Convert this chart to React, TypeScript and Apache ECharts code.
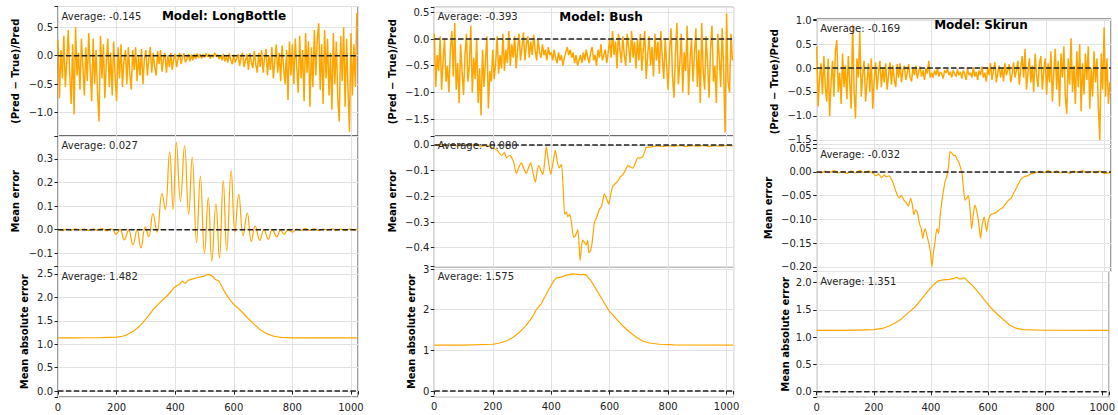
import React, { useEffect, useRef } from "react";
import * as echarts from "echarts";

// ---------------- data ----------------
const X_MAX = 1024;
const X_STEP = 5; // spacing of the sampled relative-error values
const xTickStep = 200;

const modelNames = ["LongBottle", "Bush", "Skirun"];
const avgRelative = [-0.145, -0.393, -0.169];
const avgMeanErr = [0.027, -0.08, -0.032];
const avgAbsErr = [1.482, 1.575, 1.351];
const rowNames = ["(Pred \u2212 True)/Pred", "Mean error", "Mean absolute error"];

// (Pred - True)/Pred, one value every 5 samples
const longBottleRel = [
  0.28, -0.75, 0.1, -0.4, 0.35, -0.55, -0.1, 0.45, -0.3, -0.85, 0.2, -1.03, 0.5, -0.35, 0.05, -0.6, 0.3, -0.2, -0.7, 0.15,
  -0.45, 0.4, -0.25, -0.8, 0.3, -0.5, 0.1, -0.65, -1.16, 0.35, -0.4, 0.2, -0.75, -0.1, 0.3, -0.55, 0.05, -0.7, 0.25, -0.35,
  -0.8, 0.15, -0.4, 0.2, -0.55, -0.1, 0.1, -0.5, 0.15, -0.3, -0.6, 0.1, -0.25, 0.15, -0.45, 0.0, -0.35, 0.12, -0.5, -0.05,
  0.1, -0.35, -0.05, 0.15, -0.3, 0.05, -0.2, -0.35, 0.08, -0.15, 0.1, -0.28, -0.05, 0.05, -0.3, 0.0, -0.2, 0.05, -0.25, -0.05,
  0.03, -0.2, -0.05, 0.05, -0.15, -0.02, 0.04, -0.12, -0.05, 0.03, -0.1, 0.02, -0.08, 0.03, -0.06, 0.04, -0.04, 0.03, -0.05, 0.02,
  -0.03, 0.04, -0.02, 0.03, -0.05, 0.02, -0.03, 0.05, -0.02, 0.02, -0.06, 0.01, -0.08, 0.03, -0.1, 0.0, -0.12, 0.04, -0.08, -0.15,
  0.02, -0.12, -0.05, 0.03, -0.18, -0.02, 0.05, -0.2, -0.08, 0.02, -0.25, 0.05, -0.12, -0.22, 0.08, -0.15, -0.3, 0.05, -0.2, 0.1,
  -0.3, -0.05, 0.12, -0.35, 0.0, -0.25, 0.15, -0.4, -0.1, 0.2, -0.3, 0.05, -0.45, 0.18, -0.2, -0.5, 0.1, -0.78, 0.25, -0.35,
  0.2, -0.5, 0.3, -0.2, -0.65, 0.35, -0.4, 0.1, -0.8, 0.4, -0.3, 0.25, -0.9, 0.15, -0.55, 0.45, -0.35, 0.3, 0.57, -0.6,
  0.2, -0.85, 0.45, -0.4, 0.3, -0.7, 0.05, -0.95, 0.4, -0.5, 0.25, -0.75, -1.16, 0.35, -0.45, 0.5, -0.9, 0.3, -0.6, -1.34,
  0.4, -0.7, 0.2, -0.55, 0.75,
];
const bushRel = [
  0.1, -0.9, -0.3, -0.6, 0.05, -0.95, -0.4, 0.0, -0.8, -0.5, -1.0, -0.2, 0.15, -0.7, 0.3, -0.95, -0.45, -1.2, -0.1, -0.6,
  -1.05, -0.3, 0.1, -0.8, -0.5, 0.25, -1.0, -0.35, -0.75, 0.0, -1.2, -0.55, -1.43, -0.2, -0.9, -0.4, 0.05, -1.3, -0.6, -0.8,
  -0.2, -0.75, -0.45, 0.05, -0.65, -0.3, -0.55, 0.1, -0.6, -0.2, -0.45, 0.15, -0.5, -0.1, -0.35, 0.05, -0.55, -0.2, 0.1, -0.4,
  -0.15, 0.12, -0.4, -0.1, 0.05, -0.35, -0.05, -0.3, 0.08, -0.2, -0.4, 0.0, -0.25, -0.35, -0.1, -0.3, -0.2, -0.4, -0.15, -0.3,
  -0.25, -0.4, -0.2, -0.35, -0.45, -0.25, -0.4, -0.3, -0.5, -0.35, -0.25, -0.15, -0.3, -0.2, -0.35, -0.25, -0.45, -0.3, -0.5, -0.4,
  -0.3, -0.45, -0.25, -0.4, -0.2, -0.35, -0.45, -0.25, -0.15, -0.4, -0.3, -0.5, -0.2, -0.35, -0.1, -0.4, -0.3, -0.2, -0.45, -0.25,
  0.0, -0.35, 0.15, -0.3, -0.05, -0.55, 0.1, -0.2, -0.45, 0.05, -0.3, -0.5, 0.1, -0.15, -0.45, 0.15, -0.35, -0.05, -0.55, 0.0,
  -0.4, 0.1, -0.6, -0.2, 0.15, -0.75, -0.3, 0.05, -0.5, -0.15, -0.7, 0.1, -0.4, -0.05, -0.65, 0.15, -0.35, -0.75, 0.0, -0.5,
  -0.95, -0.2, 0.2, -0.7, -1.1, -0.3, 0.3, -0.85, -0.45, 0.1, -1.0, -0.25, -0.6, 0.25, -1.05, -0.4, 0.0, -0.8, -0.3, 0.2,
  -0.9, -0.2, -1.2, 0.3, -0.6, -0.95, 0.05, -0.45, -1.1, -0.2, 0.25, -0.8, -0.5, -1.2, 0.1, -0.35, -0.9, 0.2, -0.6, -1.75,
  0.48, -0.8, -1.0, 0.1, -0.4,
];
const skirunRel = [
  0.45, -0.8, -0.2, 0.1, -0.55, 0.25, -0.4, -0.7, 0.2, -1.0, -0.3, 0.15, -0.6, 0.35, 0.58, -0.5, -0.1, -0.75, 0.3, -0.4,
  0.05, -0.65, 0.25, -0.3, -0.85, 0.9, -0.45, -1.05, 0.2, -0.2, 0.75, -0.6, -0.15, 0.15, -0.7, -0.3, 0.1, -0.5, 0.2, -0.85,
  -0.25, 0.12, -0.45, -0.1, 0.15, -0.4, 0.0, -0.3, 0.1, -0.45, -0.15, 0.12, -0.35, 0.05, -0.25, -0.4, 0.08, -0.2, 0.1, -0.3,
  -0.05, 0.05, -0.25, -0.1, 0.08, -0.2, -0.28, 0.02, -0.15, 0.05, -0.22, -0.08, 0.03, -0.18, -0.05, -0.25, 0.0, -0.12, 0.15, -0.2,
  -0.1, -0.2, -0.05, -0.15, 0.0, -0.18, -0.08, -0.12, -0.22, -0.05, -0.1, -0.02, -0.15, -0.08, -0.2, -0.05, -0.12, -0.18, -0.03, -0.15,
  -0.08, -0.22, -0.05, -0.12, -0.25, -0.02, -0.15, -0.1, -0.2, 0.02, -0.18, -0.08, -0.25, -0.05, -0.15, 0.03, -0.2, -0.1, -0.28, 0.0,
  -0.15, 0.1, -0.25, -0.05, 0.12, -0.3, -0.1, 0.05, -0.2, 0.0, -0.28, 0.1, -0.15, -0.05, 0.08, -0.3, -0.12, 0.12, -0.2, -0.05,
  0.15, -0.35, 0.0, 0.25, -0.2, 0.4, -0.45, -0.1, 0.2, -0.3, 0.05, -0.5, 0.3, -0.15, -0.4, 0.1, 0.25, -0.45, -0.05, 0.2,
  -0.55, 0.1, -0.3, 0.35, -0.7, -0.1, 0.4, -0.45, 0.15, -0.8, 0.3, -0.2, 0.45, -0.6, -0.95, 0.2, -0.35, 0.62, -0.5, 0.05,
  -0.75, 0.35, -0.4, 0.5, -0.9, 0.1, -0.55, 0.3, -0.25, 0.45, -0.85, 0.0, -0.6, 0.35, -0.3, 0.2, -0.8, -1.5, 0.3, -0.45,
  0.85, -0.6, 0.2, -0.75, -0.3,
];

// Mean error, [sample, value]
const longBottleMeanErr = [
  [0, 0.003], [15, -0.004], [30, 0.002], [45, -0.003], [60, 0.004], [75, -0.002], [90, 0.003], [105, -0.004],
  [120, 0.002], [135, -0.003], [150, 0.005], [165, -0.005], [180, 0.004], [190, -0.003],
  [197, -0.02], [212, 0.0], [226, -0.043], [241, -0.002], [256, -0.064], [270, 0.0], [283, -0.077], [298, 0.012],
  [310, -0.03], [324, 0.068], [338, -0.01], [355, 0.153], [366, 0.085], [381, 0.33], [393, 0.086], [404, 0.37],
  [418, 0.12], [432, 0.355], [446, 0.065], [458, 0.307], [473, -0.055], [486, 0.226], [500, -0.1], [513, 0.135],
  [525, -0.133], [539, 0.11], [551, -0.12], [564, 0.207], [576, -0.09], [591, 0.25], [604, -0.01], [617, 0.15],
  [632, -0.025], [646, 0.07], [660, -0.05], [673, 0.015], [689, -0.045], [703, 0.0], [718, -0.04], [731, 0.0],
  [747, -0.03], [760, 0.0], [772, -0.02], [785, 0.0], [800, -0.01], [815, 0.003], [830, -0.004], [845, 0.005],
  [860, -0.003], [875, 0.004], [890, -0.004], [905, 0.003], [920, -0.002], [935, 0.004], [950, -0.003], [965, 0.002],
  [980, -0.003], [995, 0.003], [1010, -0.002], [1023, 0.004],
];
const bushMeanErr = [
  [0, -0.002], [20, 0.002], [40, -0.003], [60, 0.001], [80, -0.004], [100, 0.0], [120, -0.003], [140, 0.002],
  [160, -0.005], [180, -0.002], [201, -0.012], [215, -0.02], [230, -0.04], [240, -0.03], [247, -0.05], [258, -0.04],
  [270, -0.062], [281, -0.11], [290, -0.085], [298, -0.07], [307, -0.095], [315, -0.11], [322, -0.09], [330, -0.07],
  [338, -0.11], [346, -0.145], [352, -0.1], [358, -0.08], [365, -0.1], [372, -0.115], [378, -0.06], [383, -0.006],
  [390, -0.06], [398, -0.115], [406, -0.07], [414, -0.02], [420, -0.06], [427, -0.09], [435, -0.075], [441, -0.17],
  [446, -0.27], [452, -0.26], [457, -0.28], [463, -0.27], [469, -0.3], [477, -0.36], [484, -0.35], [491, -0.33],
  [499, -0.45], [504, -0.39], [508, -0.37], [514, -0.38], [520, -0.39], [525, -0.37], [529, -0.42], [535, -0.41],
  [540, -0.38], [548, -0.3], [556, -0.28], [565, -0.25], [572, -0.24], [582, -0.19], [590, -0.21], [597, -0.23],
  [604, -0.19], [611, -0.16], [620, -0.15], [628, -0.14], [636, -0.125], [645, -0.115], [653, -0.1], [662, -0.08],
  [670, -0.085], [679, -0.09], [688, -0.07], [696, -0.05], [705, -0.05], [713, -0.045], [720, -0.025], [725, -0.01],
  [740, -0.008], [760, -0.004], [780, -0.006], [800, -0.003], [820, -0.005], [840, -0.002], [860, -0.006], [880, -0.003],
  [900, -0.005], [920, -0.002], [940, -0.006], [960, -0.003], [980, -0.005], [1000, -0.002], [1023, -0.004],
];
const skirunMeanErr = [
  [0, 0.001], [15, -0.002], [30, 0.002], [45, -0.001], [60, 0.003], [75, -0.002], [90, 0.001], [105, -0.003],
  [120, 0.002], [135, -0.002], [150, 0.003], [165, -0.001], [180, 0.002], [195, -0.002], [206, -0.008], [215, -0.004],
  [225, -0.012], [235, -0.006], [241, -0.01], [252, -0.008], [264, -0.02], [275, -0.04], [287, -0.055], [295, -0.05],
  [304, -0.06], [312, -0.065], [319, -0.072], [327, -0.055], [333, -0.07], [338, -0.09], [344, -0.08], [350, -0.085],
  [358, -0.11], [364, -0.12], [369, -0.14], [374, -0.125], [378, -0.12], [384, -0.135], [390, -0.15], [396, -0.17],
  [401, -0.2], [406, -0.17], [411, -0.15], [415, -0.13], [419, -0.12], [424, -0.13], [430, -0.09], [436, -0.06],
  [441, -0.04], [447, -0.02], [452, -0.01], [456, 0.0], [460, 0.02], [464, 0.043], [470, 0.04], [476, 0.035],
  [482, 0.035], [488, 0.027], [495, 0.02], [500, 0.01], [505, 0.0], [510, -0.03], [516, -0.06], [522, -0.055],
  [528, -0.05], [534, -0.08], [539, -0.12], [545, -0.09], [550, -0.07], [556, -0.08], [562, -0.1], [566, -0.12],
  [570, -0.14], [576, -0.11], [583, -0.095], [587, -0.11], [591, -0.125], [598, -0.1], [606, -0.09], [615, -0.088],
  [625, -0.085], [635, -0.08], [648, -0.075], [660, -0.065], [670, -0.058], [677, -0.055], [685, -0.045], [694, -0.035],
  [702, -0.025], [711, -0.015], [722, -0.01], [734, -0.008], [745, -0.004], [760, -0.002], [775, 0.001], [790, -0.002],
  [805, 0.003], [820, -0.001], [835, 0.002], [850, -0.002], [865, 0.001], [880, -0.003], [895, 0.002], [910, -0.001],
  [925, 0.003], [940, -0.002], [955, 0.001], [970, -0.002], [985, 0.002], [1000, -0.003], [1023, -0.001],
];

// Mean absolute error, [sample, value]
const longBottleAbsErr = [
  [0, 1.135], [50, 1.135], [100, 1.138], [150, 1.14], [201, 1.15], [220, 1.17], [235, 1.2], [258, 1.28],
  [281, 1.4], [304, 1.57], [326, 1.75], [349, 1.9], [372, 2.03], [385, 2.12], [395, 2.2], [406, 2.25],
  [415, 2.28], [423, 2.35], [430, 2.32], [435, 2.3], [443, 2.36], [452, 2.38], [463, 2.4], [475, 2.42],
  [488, 2.44], [498, 2.45], [509, 2.49], [518, 2.48], [526, 2.46], [532, 2.42], [538, 2.38], [549, 2.35],
  [558, 2.25], [566, 2.15], [575, 2.06], [583, 1.98], [600, 1.85], [623, 1.72], [646, 1.57], [669, 1.43],
  [692, 1.3], [715, 1.22], [737, 1.17], [760, 1.145], [800, 1.137], [900, 1.135], [1023, 1.135],
];
const bushAbsErr = [
  [0, 1.13], [100, 1.13], [200, 1.15], [224, 1.18], [247, 1.23], [270, 1.32], [292, 1.45], [315, 1.62],
  [338, 1.85], [349, 2.0], [366, 2.15], [383, 2.38], [400, 2.6], [410, 2.72], [418, 2.78], [435, 2.8],
  [452, 2.85], [474, 2.88], [497, 2.86], [510, 2.87], [520, 2.85], [537, 2.7], [554, 2.5], [577, 2.22],
  [600, 1.95], [622, 1.78], [645, 1.6], [668, 1.45], [691, 1.32], [713, 1.23], [736, 1.18], [770, 1.15],
  [820, 1.135], [1023, 1.13],
];
const skirunAbsErr = [
  [0, 1.125], [100, 1.125], [200, 1.14], [229, 1.16], [252, 1.2], [275, 1.26], [298, 1.34], [321, 1.45],
  [344, 1.55], [367, 1.7], [390, 1.85], [407, 1.95], [424, 2.03], [442, 2.05], [464, 2.06], [482, 2.08],
  [491, 2.1], [498, 2.07], [505, 2.07], [514, 2.09], [520, 2.08], [528, 2.03], [545, 1.95], [562, 1.85],
  [585, 1.7], [608, 1.55], [631, 1.43], [654, 1.32], [677, 1.22], [700, 1.16], [722, 1.14], [800, 1.127],
  [1023, 1.125],
];

// y axis ranges / tick steps / decimals per [column][row]
const yRanges = [
  [[-1.414, 0.866], [-0.156, 0.397], [-0.128, 2.66]],
  [[-1.816, 0.594], [-0.474, 0.035], [-0.14, 3.057]],
  [[-1.594, 1.021], [-0.21, 0.058], [-0.103, 2.205]],
];
const yTickSteps = [
  [0.5, 0.1, 0.5],
  [0.5, 0.1, 1],
  [0.5, 0.05, 0.5],
];
const yDecimals = [
  [1, 1, 1],
  [1, 1, 0],
  [1, 2, 1],
];

// ---------------- layout ----------------
const FONT = '"DejaVu Sans", "Liberation Sans", sans-serif';
const colLayout = [
  { left: 58, width: 300, edges: [6.5, 136, 266.5, 397], titleX: 224, titleY: 16 },
  { left: 434.3, width: 299.3, edges: [7.3, 136, 266.7, 396.7], titleX: 601, titleY: 16.7 },
  { left: 816.7, width: 294.3, edges: [19, 144.5, 271.5, 397.3], titleX: 981, titleY: 25 },
];
const yNameX = [
  [15.8, 15.3, 24.5],
  [392.2, 392.2, 411.2],
  [774.5, 768.8, 785.5],
];

const fmtNum = (v: number, dec: number) => {
  const s = (Math.abs(v) < 1e-9 ? 0 : v).toFixed(dec);
  return s.replace("-", "\u2212");
};
const onStep = (v: number, step: number) => Math.abs(v / step - Math.round(v / step)) < 1e-4;

export default function App() {
  const ref = useRef<HTMLDivElement | null>(null);

  useEffect(() => {
    document.body.style.margin = "0";
    if (!ref.current) return;
    const chart = echarts.init(ref.current, undefined, { renderer: "svg" });

    const relSeries = [longBottleRel, bushRel, skirunRel].map((vals) =>
      vals.map((v, i) => [i * X_STEP, v])
    );
    const meanSeries = [longBottleMeanErr, bushMeanErr, skirunMeanErr];
    const absSeries = [longBottleAbsErr, bushAbsErr, skirunAbsErr];
    const averages = [avgRelative, avgMeanErr, avgAbsErr];

    const grids: any[] = [];
    const xAxes: any[] = [];
    const yAxes: any[] = [];
    const series: any[] = [];
    const graphics: any[] = [];

    for (let c = 0; c < 3; c++) {
      const L = colLayout[c];
      graphics.push({
        type: "text",
        x: L.titleX,
        y: L.titleY,
        z: 100,
        style: {
          text: `Model: ${modelNames[c]}`,
          font: `bold 12px ${FONT}`,
          fill: "#000",
          textAlign: "center",
          textVerticalAlign: "middle",
        },
      });
      for (let r = 0; r < 3; r++) {
        const idx = c * 3 + r;
        const top = L.edges[r];
        const bottom = L.edges[r + 1];
        grids.push({
          left: L.left,
          top,
          width: L.width,
          height: bottom - top,
          show: true,
          borderColor: "#3a3a3a",
          borderWidth: 1,
          backgroundColor: "transparent",
        });
        const isBottom = r === 2;
        xAxes.push({
          type: "value",
          gridIndex: idx,
          min: 0,
          max: X_MAX,
          minInterval: xTickStep,
          maxInterval: xTickStep,
          axisLine: { show: false },
          axisTick: {
            show: isBottom,
            length: 3.5,
            lineStyle: { color: "#222", width: 1 },
          },
          axisLabel: {
            show: isBottom,
            margin: 5,
            fontSize: 10,
            fontFamily: FONT,
            color: "#222",
            formatter: (v: number) => (onStep(v, xTickStep) && v <= 1000 ? String(Math.round(v)) : ""),
          },
          splitLine: { show: true, lineStyle: { color: "#e2e2e2", width: 1 } },
        });
        const step = yTickSteps[c][r];
        const dec = yDecimals[c][r];
        yAxes.push({
          type: "value",
          gridIndex: idx,
          min: yRanges[c][r][0],
          max: yRanges[c][r][1],
          minInterval: step,
          maxInterval: step,
          axisLine: { show: false },
          axisTick: { show: true, length: 3.5, lineStyle: { color: "#222", width: 1 } },
          axisLabel: {
            margin: 5,
            fontSize: 10,
            fontFamily: FONT,
            color: "#222",
            formatter: (v: number) => (onStep(v, step) ? fmtNum(Math.round(v / step) * step, dec) : ""),
          },
          splitLine: { show: true, lineStyle: { color: "#e2e2e2", width: 1 } },
        });
        const data = r === 0 ? relSeries[c] : r === 1 ? meanSeries[c] : absSeries[c];
        series.push({
          type: "line",
          xAxisIndex: idx,
          yAxisIndex: idx,
          data,
          symbol: "none",
          smooth: r === 1 && c === 0 ? 0.45 : r === 1 ? 0.2 : false,
          lineStyle: { color: "#FFA500", width: r === 0 ? 1.5 : 1.2 },
          silent: true,
          z: 2,
        });
        series.push({
          type: "line",
          xAxisIndex: idx,
          yAxisIndex: idx,
          data: [
            [0, 0],
            [X_MAX, 0],
          ],
          symbol: "none",
          lineStyle: { color: "#222", width: 1.4, type: [5.5, 2.4] },
          silent: true,
          z: 3,
        });
        graphics.push({
          type: "text",
          x: L.left + 3.5,
          y: top + 9.5,
          z: 100,
          style: {
            text: `Average: ${averages[r][c].toFixed(3)}`,
            font: `10px ${FONT}`,
            fill: "#262626",
            textAlign: "left",
            textVerticalAlign: "middle",
          },
        });
        graphics.push({
          type: "text",
          x: yNameX[c][r],
          y: (top + bottom) / 2,
          rotation: Math.PI / 2,
          z: 100,
          style: {
            text: rowNames[r],
            font: `bold 10px ${FONT}`,
            fill: "#000",
            textAlign: "center",
            textVerticalAlign: "middle",
          },
        });
      }
    }

    chart.setOption({
      animation: false,
      backgroundColor: "#ffffff",
      grid: grids,
      xAxis: xAxes,
      yAxis: yAxes,
      series,
      graphic: graphics,
    });

    return () => {
      chart.dispose();
    };
  }, []);

  return <div ref={ref} style={{ width: 1118, height: 415 }} />;
}
